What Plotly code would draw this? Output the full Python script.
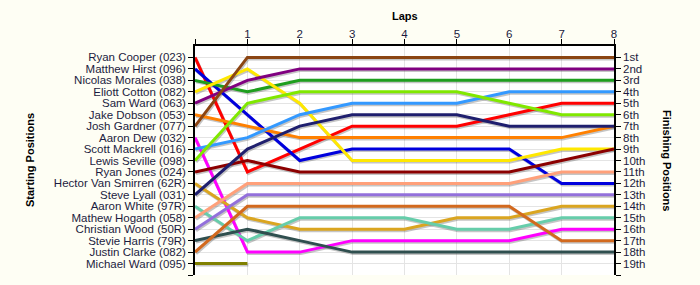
import plotly.graph_objects as go

laps = [0, 1, 2, 3, 4, 5, 6, 7, 8]
lap_labels = ["", "1", "2", "3", "4", "5", "6", "7", "8"]

drivers = [
    "Ryan Cooper (023)", "Matthew Hirst (096)", "Nicolas Morales (038)", "Eliott Cotton (082)",
    "Sam Ward (063)", "Jake Dobson (053)", "Josh Gardner (077)", "Aaron Dew (032)",
    "Scott Mackrell (016)", "Lewis Seville (098)", "Ryan Jones (024)", "Hector Van Smirren (62R)",
    "Steve Lyall (031)", "Aaron White (97R)", "Mathew Hogarth (058)", "Christian Wood (50R)",
    "Stevie Harris (79R)", "Justin Clarke (082)", "Michael Ward (095)",
]

ryan_cooper = [1, 11, 9, 7, 7, 7, 6, 5, 5]
matthew_hirst = [2, 6, 10, 9, 9, 9, 9, 12, 12]
nicolas_morales = [3, 4, 3, 3, 3, 3, 3, 3, 3]
eliott_cotton = [4, 2, 5, 10, 10, 10, 10, 9, 9]
sam_ward = [5, 3, 2, 2, 2, 2, 2, 2, 2]
jake_dobson = [6, 7, 8, 8, 8, 8, 8, 8, 7]
josh_gardner = [7, 1, 1, 1, 1, 1, 1, 1, 1]
aaron_dew = [8, 18, 18, 17, 17, 17, 17, 16, 16]
scott_mackrell = [9, 8, 6, 5, 5, 5, 4, 4, 4]
lewis_seville = [10, 5, 4, 4, 4, 4, 5, 6, 6]
ryan_jones = [11, 10, 11, 11, 11, 11, 11, 10, 9]
hector_van_smirren = [12, 15, 16, 16, 16, 15, 15, 14, 14]
steve_lyall = [13, 9, 7, 6, 6, 6, 7, 7, 7]
aaron_white = [14, 17, 15, 15, 15, 16, 16, 15, 15]
mathew_hogarth = [15, 12, 12, 12, 12, 12, 12, 11, 11]
christian_wood = [16, 13, 13, 13, 13, 13, 13, 13, 13]
stevie_harris = [17, 16, 17, 18, 18, 18, 18, 18, 18]
justin_clarke = [18, 14, 14, 14, 14, 14, 14, 17, 17]
michael_ward = [19, 19]

positions = [
    ryan_cooper, matthew_hirst, nicolas_morales, eliott_cotton, sam_ward, jake_dobson,
    josh_gardner, aaron_dew, scott_mackrell, lewis_seville, ryan_jones, hector_van_smirren,
    steve_lyall, aaron_white, mathew_hogarth, christian_wood, stevie_harris, justin_clarke,
    michael_ward,
]

colors = [
    "#FF0000", "#0000DD", "#1E9E1E", "#FFE800", "#800080", "#FF8000", "#8B4513",
    "#FF00FF", "#3399FF", "#80E800", "#8B0000", "#DAA520", "#1F1F6E", "#66CDAA",
    "#FFA07A", "#9370DB", "#2F4F4F", "#D2691E", "#808000",
]

finish_labels = ["1st", "2nd", "3rd", "4th", "5th", "6th", "7th", "8th", "9th", "10th",
                 "11th", "12th", "13th", "14th", "15th", "16th", "17th", "18th", "19th"]

fig = go.Figure()

# shadows
for pos in positions:
    xs = [laps[i] + 0.02 for i in range(len(pos))]
    ys = [p + 0.13 for p in pos]
    fig.add_trace(go.Scatter(x=xs, y=ys, mode="lines",
                             line=dict(color="rgba(90,90,90,0.35)", width=3),
                             hoverinfo="skip", showlegend=False))

for name, pos, c in zip(drivers, positions, colors):
    fig.add_trace(go.Scatter(x=laps[:len(pos)], y=pos, mode="lines", name=name,
                             line=dict(color=c, width=3), showlegend=False))

# invisible trace for right axis
fig.add_trace(go.Scatter(x=[0], y=[1], yaxis="y2", mode="markers",
                         marker=dict(opacity=0), hoverinfo="skip", showlegend=False))

tick_font = dict(family="Liberation Sans, Arial, sans-serif", size=11.5, color="#1c1c40")
title_font = dict(family="Liberation Sans, Arial", size=11, color="black")
ytickvals = list(range(1, 21))

fig.update_layout(
    width=700, height=285,
    margin=dict(l=195, r=86, t=46, b=10),
    paper_bgcolor="#FEFEF4",
    plot_bgcolor="#FFFFFF",
    xaxis=dict(
        side="top", range=[0, 8], tickvals=laps, ticktext=lap_labels,
        ticks="outside", ticklen=5, tickcolor="black", tickfont=tick_font,
        ticklabelstandoff=-3,
        showline=True, linecolor="black", linewidth=1.5, mirror=False,
        showgrid=True, gridcolor="#E4E4E4", gridwidth=1, zeroline=False,
    ),
    yaxis=dict(
        range=[20, 0], tickvals=ytickvals, ticktext=drivers + [""],
        ticks="outside", ticklen=5, tickcolor="black", tickfont=tick_font,
        showline=True, linecolor="black", linewidth=1.5,
        showgrid=True, gridcolor="#E4E4E4", gridwidth=1, zeroline=False,
    ),
    yaxis2=dict(
        overlaying="y", side="right", range=[20, 0], tickvals=ytickvals,
        ticktext=finish_labels + [""], ticks="outside", ticklen=5, tickcolor="black",
        tickfont=tick_font, showline=True, linecolor="black", linewidth=1.5,
        showgrid=False, zeroline=False,
    ),
    annotations=[
        dict(text="<b>Laps</b>", xref="paper", yref="paper", x=0.5, y=(275 - 16) / 229,
             xanchor="center", yanchor="middle", showarrow=False, font=title_font),
        dict(text="<b>Starting Positions</b>", xref="paper", yref="paper",
             x=(30 - 195) / 419, y=(275 - 160) / 229, xanchor="center", yanchor="middle",
             textangle=-90, showarrow=False, font=title_font),
        dict(text="<b>Finishing Positions</b>", xref="paper", yref="paper",
             x=(667 - 195) / 419, y=(275 - 160) / 229, xanchor="center", yanchor="middle",
             textangle=90, showarrow=False, font=title_font),
    ],
)

fig.write_html("out.html")
